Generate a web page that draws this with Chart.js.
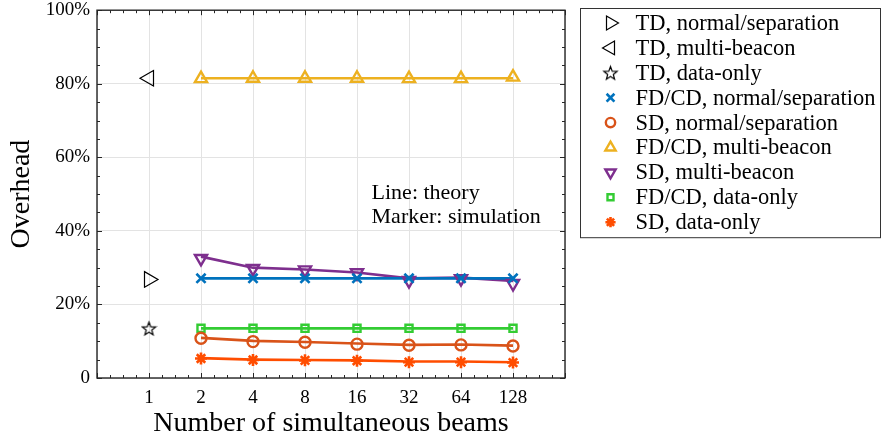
<!DOCTYPE html>
<html>
<head>
<meta charset="utf-8">
<script src="https://cdn.jsdelivr.net/npm/chart.js@4/dist/chart.umd.min.js"></script>
<style>
  html, body { margin: 0; padding: 0; background: #fff; }
  #wrap { width: 882px; height: 441px; }
</style>
</head>
<body>
<div id="wrap"><canvas id="chart"></canvas></div>
<script>
// number of simultaneous beams (x axis is log2)
const beams = [2, 4, 8, 16, 32, 64, 128];
const tdBeams = 1;

// TD, single points at 1 beam
const tdNormal = 26.8;
const tdMulti = 81.5;
const tdData = 13.5;

// theory (lines)
const fdNormalTheory = [27.1, 27.1, 27.1, 27.1, 27.1, 27.1, 27.1];
const sdNormalTheory = [10.9, 10.1, 9.8, 9.4, 9.0, 9.1, 8.8];
const fdMultiTheory  = [81.5, 81.5, 81.5, 81.5, 81.5, 81.5, 81.5];
const sdMultiTheory  = [33.0, 30.0, 29.5, 28.7, 27.1, 27.3, 26.4];
const fdDataTheory   = [13.5, 13.5, 13.5, 13.5, 13.5, 13.5, 13.5];
const sdDataTheory   = [5.4, 5.0, 4.9, 4.8, 4.5, 4.5, 4.3];

// simulation (markers)
const fdNormalSim = [27.1, 27.1, 27.1, 27.1, 27.1, 27.1, 27.1];
const sdNormalSim = [10.8, 9.9, 9.7, 9.2, 8.9, 9.0, 8.7];
const fdMultiSim  = [81.4, 81.5, 81.5, 81.5, 81.4, 81.4, 81.8];
const sdMultiSim  = [32.5, 29.8, 29.4, 28.6, 26.5, 27.0, 25.7];
const fdDataSim   = [13.5, 13.5, 13.5, 13.5, 13.5, 13.5, 13.5];
const sdDataSim   = [5.3, 4.9, 4.8, 4.7, 4.3, 4.3, 4.2];

const BLUE = '#0072BD', ORANGE = '#D95319', YELLOW = '#EDB120',
      PURPLE = '#7E2F8E', GREEN = '#33CC33', RED = '#FF4D00';
const SERIF = '"Liberation Serif", "Times New Roman", serif';

const pts = (vals) => vals.map((v, i) => ({ x: Math.log2(beams[i]), y: v }));

// hollow five point star for the TD data-only marker
function makeStar(size) {
  const c = document.createElement('canvas');
  c.width = c.height = size;
  const g = c.getContext('2d');
  const cx = size / 2, cy = size / 2 + 0.8, R = size / 2 - 1.5, r = R * 0.42;
  g.beginPath();
  for (let i = 0; i < 10; i++) {
    const a = -Math.PI / 2 + i * Math.PI / 5;
    const rad = i % 2 ? r : R;
    const px = cx + rad * Math.cos(a), py = cy + rad * Math.sin(a);
    if (i === 0) g.moveTo(px, py); else g.lineTo(px, py);
  }
  g.closePath();
  g.lineWidth = 1.2;
  g.strokeStyle = '#000';
  g.stroke();
  return c;
}
const starImg = makeStar(17);

function marker(label, data, color, style, opts) {
  return Object.assign({
    label: label,
    data: data,
    showLine: false,
    pointStyle: style,
    pointRadius: 6,
    pointBorderWidth: 2.4,
    pointBorderColor: color,
    pointBackgroundColor: 'rgba(0,0,0,0)',
    pointRotation: 0,
    borderColor: color,
    backgroundColor: 'rgba(0,0,0,0)',
  }, opts || {});
}
function theory(data, color) {
  return {
    label: '',
    data: pts(data),
    showLine: true,
    borderColor: color,
    borderWidth: 2.6,
    pointRadius: 0,
    fill: false,
  };
}

const markerSets = [
  marker('TD, normal/separation', [{ x: Math.log2(tdBeams), y: tdNormal }], '#000', 'triangle',
    { pointRotation: 90, pointRadius: 9, pointBorderWidth: 1.2 }),
  marker('TD, multi-beacon', [{ x: Math.log2(tdBeams), y: tdMulti }], '#000', 'triangle',
    { pointRotation: -90, pointRadius: 9, pointBorderWidth: 1.2 }),
  marker('TD, data-only', [{ x: Math.log2(tdBeams), y: tdData }], '#000', starImg,
    { pointBorderWidth: 1.2 }),
  marker('FD/CD, normal/separation', pts(fdNormalSim), BLUE, 'crossRot', { pointRadius: 6.5, pointBorderWidth: 2.6 }),
  marker('SD, normal/separation', pts(sdNormalSim), ORANGE, 'circle', { pointRadius: 5.5 }),
  marker('FD/CD, multi-beacon', pts(fdMultiSim), YELLOW, 'triangle', { pointRadius: 7 }),
  marker('SD, multi-beacon', pts(sdMultiSim), PURPLE, 'triangle', { pointRadius: 7, pointRotation: 180 }),
  marker('FD/CD, data-only', pts(fdDataSim), GREEN, 'rect', { pointRadius: 5 }),
  marker('SD, data-only', pts(sdDataSim), RED, 'star', { pointRadius: 6, pointBorderWidth: 2.6 }),
];
const lineSets = [
  theory(fdNormalTheory, BLUE),
  theory(sdNormalTheory, ORANGE),
  theory(fdMultiTheory, YELLOW),
  theory(sdMultiTheory, PURPLE),
  theory(fdDataTheory, GREEN),
  theory(sdDataTheory, RED),
];

// inward ticks on all four sides, box, annotation text and the framed legend
const frame = {
  id: 'frame',
  afterDraw(chart) {
    const { ctx, chartArea: a, scales: { x, y } } = chart;
    ctx.save();
    ctx.strokeStyle = '#262626';
    ctx.lineWidth = 1;
    ctx.beginPath();
    for (let v = x.min; v <= x.max + 1e-9; v += 0.25) {
      const px = Math.round(x.getPixelForValue(v)) + 0.5;
      const len = Number.isInteger(v) ? 5 : 3;
      ctx.moveTo(px, a.bottom); ctx.lineTo(px, a.bottom - len);
      ctx.moveTo(px, a.top); ctx.lineTo(px, a.top + len);
    }
    for (let v = 0; v <= 100; v += 5) {
      const py = Math.round(y.getPixelForValue(v)) + 0.5;
      const len = v % 20 === 0 ? 5 : 3;
      ctx.moveTo(a.left, py); ctx.lineTo(a.left + len, py);
      ctx.moveTo(a.right, py); ctx.lineTo(a.right - len, py);
    }
    ctx.stroke();
    ctx.lineWidth = 1.4;
    ctx.strokeRect(a.left, a.top, a.width, a.height);

    // annotation
    ctx.fillStyle = '#000';
    ctx.font = '22px ' + SERIF;
    ctx.textBaseline = 'middle';
    ctx.textAlign = 'left';
    const tx = x.getPixelForValue(4.28);
    ctx.fillText('Line: theory', tx, y.getPixelForValue(50.3));
    ctx.fillText('Marker: simulation', tx, y.getPixelForValue(43.8));

    // legend, outside the plot on the right
    const fl = Math.round(a.right + 15) + 0.5;
    const ft = Math.round(a.top - 2) + 0.5;
    const pitch = 24.9;
    const n = markerSets.length;
    ctx.strokeStyle = '#333';
    ctx.lineWidth = 1;
    ctx.strokeRect(fl, ft, chart.width - 1.5 - fl, 14 + pitch * (n - 1) + 16);
    ctx.font = '22.5px ' + SERIF;
    markerSets.forEach((ds, i) => {
      const cy = ft + 14.5 + i * pitch;
      ctx.fillStyle = 'rgba(0,0,0,0)';
      ctx.strokeStyle = ds.pointBorderColor;
      ctx.lineWidth = ds.pointBorderWidth;
      const r = ds.pointRadius > 8 ? 8 : ds.pointRadius * 0.85;
      Chart.helpers.drawPoint(ctx, {
        pointStyle: ds.pointStyle,
        rotation: ds.pointRotation,
        radius: r,
        borderWidth: ds.pointBorderWidth,
      }, fl + 30, cy);
      ctx.fillStyle = '#000';
      ctx.fillText(ds.label, fl + 55, cy + 1);
    });
    ctx.restore();
  }
};

new Chart(document.getElementById('chart'), {
  type: 'scatter',
  data: { datasets: markerSets.concat(lineSets) },
  options: {
    responsive: true,
    maintainAspectRatio: false,
    animation: false,
    layout: { padding: { top: 10, right: 317, left: 0, bottom: 0 } },
    plugins: {
      tooltip: { enabled: false },
      legend: { display: false },
    },
    scales: {
      x: {
        type: 'linear',
        min: -1,
        max: 8,
        afterFit: (s) => { s.height = 63; s.paddingLeft = 0; s.paddingRight = 0; },
        ticks: {
          stepSize: 1,
          padding: 9,
          color: '#000',
          font: { family: SERIF, size: 19 },
          maxRotation: 0,
          callback: (v) => (v >= 0 && v <= 7 ? String(Math.pow(2, v)) : ''),
        },
        grid: { color: '#e3e3e3', lineWidth: 1, drawTicks: false },
        border: { display: false },
        title: {
          display: true,
          text: 'Number of simultaneous beams',
          color: '#000',
          font: { family: SERIF, size: 28 },
          padding: { top: 0, bottom: 1 },
        },
      },
      y: {
        min: 0,
        max: 100,
        afterFit: (s) => { s.width = 97; s.paddingTop = 0; s.paddingBottom = 0; },
        ticks: {
          stepSize: 20,
          padding: 7,
          color: '#000',
          font: { family: SERIF, size: 19 },
          callback: (v) => (v === 0 ? '0' : v + '%'),
        },
        grid: { color: '#e3e3e3', lineWidth: 1, drawTicks: false },
        border: { display: false },
        title: {
          display: true,
          text: 'Overhead',
          color: '#000',
          font: { family: SERIF, size: 28 },
          padding: { top: 5, bottom: 0 },
        },
      },
    },
  },
  plugins: [frame],
});
</script>
</body>
</html>
